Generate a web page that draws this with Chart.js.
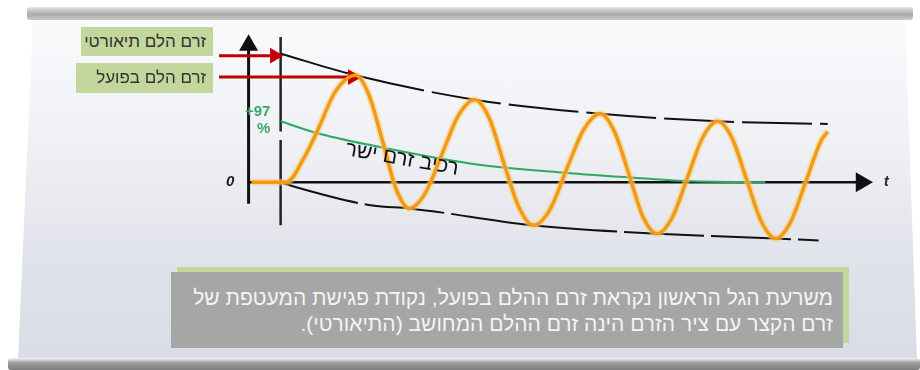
<!DOCTYPE html>
<html lang="he">
<head>
<meta charset="utf-8">
<script src="https://cdn.jsdelivr.net/npm/chart.js@4.4.1/dist/chart.umd.min.js"></script>
<style>
  body { margin:0; width:920px; height:370px; position:relative; overflow:hidden; background:#fff; font-family:"Liberation Sans", "DejaVu Sans", sans-serif; }
  #panel { position:absolute; left:0; top:0; width:920px; height:370px;
    clip-path: polygon(33px 19px, 905px 19px, 917px 360px, 18px 360px);
    background: linear-gradient(to bottom, #fbfcfd 0%, #eef0f4 40%, #dfe1e9 75%, #d9dce5 100%); }
  .bar { position:absolute; border-radius:3px; }
  #topbar { left:27px; top:7px; width:886px; height:13px; background:linear-gradient(to bottom,#e6e6e6,#a9a9a9 55%,#c9c9c9); }
  #botbar { left:8px; top:358px; width:912px; height:12px; background:linear-gradient(to bottom,#f4f4f4,#9c9c9c 40%,#7f7f7f); }
  canvas { position:absolute; left:0; top:0; }
  .lbl { position:absolute; background:#c3d69b; color:#333; font-size:17px; text-align:right; direction:rtl; padding-right:7px; box-sizing:border-box; }
  #shadow { position:absolute; left:177px; top:267px; width:672px; height:76px; background:#c3d69b; }
  #note { position:absolute; left:171px; top:272px; width:672px; height:76px; background:#a6a6a6; color:#f4f4f4;
    direction:rtl; text-align:right; font-size:21px; line-height:26px; padding:13px 10px 0 0; box-sizing:border-box; white-space:nowrap; }
  .txt { position:absolute; white-space:nowrap; }
</style>
</head>
<body>
<div id="panel"></div>
<div id="topbar" class="bar"></div>
<div id="botbar" class="bar"></div>
<canvas id="shortCircuit" width="920" height="370"></canvas>
<div class="lbl" style="left:81px;top:27px;width:132px;height:29px;line-height:29px;">זרם הלם תיאורטי</div>
<div class="lbl" style="left:76px;top:63px;width:137px;height:30px;line-height:30px;">זרם הלם בפועל</div>
<div class="txt" style="left:245px;top:102px;color:#3aa76d;font-weight:bold;font-size:15px;">+97</div>
<div class="txt" style="left:257px;top:119px;color:#3aa76d;font-weight:bold;font-size:15px;">%</div>
<div class="txt" style="left:226px;top:172px;color:#222;font-weight:bold;font-style:italic;font-size:15px;">0</div>
<div class="txt" style="left:884px;top:173px;color:#222;font-style:italic;font-weight:bold;font-size:14px;">t</div>
<div class="txt" style="left:345px;top:146px;color:#111;font-size:21px;direction:rtl;transform:rotate(10deg);transform-origin:center;">רכיב זרם ישר</div>
<div id="shadow"></div>
<div id="note">משרעת הגל הראשון נקראת זרם ההלם בפועל, נקודת פגישת המעטפת של<br>זרם הקצר עם ציר הזרם הינה זרם ההלם המחושב (התיאורטי).</div>
<script>
// time in ms, current in % of theoretical peak
const waveT = [-4.8, 1.0, 3.7, 6.1, 9.0, 12.4, 14.6, 16.9, 19.1, 21.3, 24.0, 26.7, 29.4, 32.1, 34.5, 36.9, 39.4, 41.8,
  44.6, 47.3, 50.1, 52.9, 55.2, 57.6, 59.9, 62.3, 64.8, 67.3, 69.8, 72.3, 74.7, 77.1, 79.5, 81.9, 84.4, 86.9, 89.4, 90.5];
const waveI = [0, 0, 17.5, 40.1, 70.1, 83.2, 68.0, 31.4, -5.3, -20.4, -8.0, 21.9, 51.8, 64.2, 49.9, 15.3, -19.3, -33.6,
  -20.9, 9.9, 40.6, 53.3, 39.6, 6.6, -26.5, -40.1, -27.3, 3.6, 34.6, 47.4, 34.1, 1.8, -30.4, -43.8, -30.7, 0.7, 32.2, 39.4];

const envTopT = [0, 12.4, 32.1, 52.9, 72.3, 90.5];
const envTopI = [100, 83.2, 64.2, 53.3, 47.4, 45.3];

const envBotT = [0, 2.3, 15.2, 21.3, 41.8, 62.3, 81.9, 89.0];
const envBotI = [0, -3.6, -18.2, -20.4, -33.6, -40.1, -43.8, -45.3];

const dcT = [0, 5.8, 15.2, 31.3, 46.9, 60.3, 68.4, 80.2];
const dcI = [47.4, 38.5, 28.5, 14.6, 7.3, 2.9, 0.7, 0];

// axes and pointer arrows
const tAxisT = [-5.3, 96.1];
const iAxisI = [-16.8, 106.6];
const markerT = [0, 0, 0, 0, 0];
const markerI = [113, 39.4, null, 32.8, -33.6];
const arrowTheoT = [-10.2, -1.0];
const arrowTheoI = [98.5, 98.5];
const arrowRealT = [-10.2, 11.9];
const arrowRealI = [81.8, 81.8];

const pts = (xs, ys) => xs.map((x, i) => ({ x: x, y: ys[i] }));

const ctx = document.getElementById('shortCircuit').getContext('2d');
new Chart(ctx, {
  type: 'scatter',
  data: {
    datasets: [{
      data: pts(waveT, waveI),
      showLine: true,
      borderColor: '#f29a17',
      borderWidth: 3.5,
      pointRadius: 0,
      cubicInterpolationMode: 'monotone',
      order: 0
    }, {
      data: pts(waveT, waveI),
      showLine: true,
      borderColor: 'rgba(250,205,110,0.5)',
      borderWidth: 7,
      pointRadius: 0,
      cubicInterpolationMode: 'monotone',
      order: 1
    }, {
      data: pts(dcT, dcI),
      showLine: true,
      borderColor: '#2ea862',
      borderWidth: 2,
      pointRadius: 0,
      cubicInterpolationMode: 'monotone',
      order: 2
    }, {
      data: pts(envTopT, envTopI),
      showLine: true,
      borderColor: '#111',
      borderWidth: 2,
      borderDash: [70, 8],
      pointRadius: 0,
      cubicInterpolationMode: 'monotone',
      order: 3
    }, {
      data: pts(envBotT, envBotI),
      showLine: true,
      borderColor: '#111',
      borderWidth: 2,
      borderDash: [80, 7],
      pointRadius: 0,
      cubicInterpolationMode: 'monotone',
      order: 3
    }, {
      data: pts(tAxisT, [0, 0]),
      showLine: true,
      borderColor: '#111',
      backgroundColor: '#111',
      borderWidth: 2.5,
      pointStyle: 'triangle',
      rotation: 90,
      pointRadius: [0, 9],
      order: 4
    }, {
      data: pts([-5.3, -5.3], iAxisI),
      showLine: true,
      borderColor: '#111',
      backgroundColor: '#111',
      borderWidth: 3,
      pointStyle: 'triangle',
      pointRadius: [0, 8],
      order: 4
    }, {
      data: pts(markerT, markerI),
      showLine: true,
      spanGaps: false,
      borderColor: '#222',
      borderWidth: 2.5,
      pointRadius: 0,
      order: 4
    }, {
      data: pts(arrowTheoT, arrowTheoI),
      showLine: true,
      borderColor: '#c00000',
      backgroundColor: '#c00000',
      borderWidth: 3,
      pointStyle: 'triangle',
      rotation: 90,
      pointRadius: [0, 6],
      order: 0
    }, {
      data: pts(arrowRealT, arrowRealI),
      showLine: true,
      borderColor: '#c00000',
      backgroundColor: '#c00000',
      borderWidth: 3,
      pointStyle: 'triangle',
      rotation: 90,
      pointRadius: [0, 6],
      order: 0
    }]
  },
  options: {
    responsive: false,
    animation: false,
    layout: { padding: 0 },
    plugins: {
      legend: { display: false },
      tooltip: { enabled: false }
    },
    scales: {
      x: { type: 'linear', min: -44.52, max: 103.87, display: false },
      y: { min: -137.23, max: 132.85, display: false }
    }
  }
});
</script>
</body>
</html>
